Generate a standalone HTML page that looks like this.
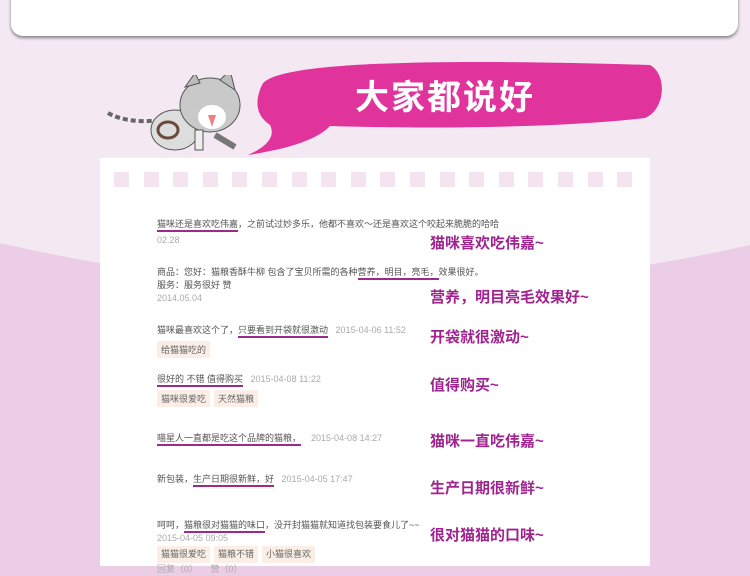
<!DOCTYPE html>
<html><head><meta charset="utf-8"><style>
body{margin:0;width:750px;height:566px;overflow:hidden;position:relative;background:#ebcde5;font-family:"Liberation Sans","Noto Sans CJK SC",sans-serif}
.abs{position:absolute}
.c{font-size:9px;color:#555;white-space:nowrap}
.d{color:#aaa;font-size:9px}
.u{border-bottom:2px solid #9a2a8c;padding-bottom:1px}
.tag{display:inline-block;background:#fbeee6;color:#666;font-size:9px;padding:2px 4px;margin-right:4px}
.r{position:absolute;left:430px;color:#a0248f;font-weight:bold;font-size:15px;white-space:nowrap}
</style></head><body>
<svg class="abs" style="left:0;top:0" width="750" height="566"><path d="M0,0H750V245Q375,330 0,243Z" fill="#f4e8f3"/></svg>
<div class="abs" style="left:11px;top:-10px;width:727px;height:46px;background:#fff;border-radius:0 0 12px 12px;box-shadow:0 2px 3px rgba(0,0,0,.45)"></div>
<svg class="abs" style="left:100px;top:75px" width="160" height="80">
<path d="M8,38 C20,45 40,48 60,45" stroke="#666" stroke-width="4" fill="none" stroke-dasharray="5 3"/>
<ellipse cx="75" cy="55" rx="24" ry="20" fill="#ddd" stroke="#555"/>
<ellipse cx="68" cy="55" rx="10" ry="8" fill="none" stroke="#6a4a3a" stroke-width="3"/>
<ellipse cx="110" cy="30" rx="30" ry="27" fill="#c9c9c9" stroke="#555"/>
<path d="M85,12 L95,-2 L100,8Z M120,5 L130,-5 L135,15Z" fill="#bbb" stroke="#555"/>
<ellipse cx="112" cy="42" rx="14" ry="12" fill="#fff"/>
<path d="M108,40 L116,40 L112,52Z" fill="#f08080"/>
<rect x="95" y="55" width="8" height="20" fill="#eee" stroke="#555"/>
<path d="M115,60 L135,72" stroke="#777" stroke-width="6"/>
</svg>
<svg class="abs" style="left:240px;top:50px" width="430" height="110">
<path d="M22,35 C35,8 250,10 410,15 C428,25 425,60 405,68 C300,80 150,78 90,76 C75,92 40,100 8,105 C30,95 35,85 30,75 C15,65 15,50 22,35Z" fill="#e0339b"/>
</svg>
<div class="abs" style="left:355px;top:70px;font-size:34px;font-weight:bold;color:#fff;letter-spacing:2px;font-family:'WenQuanYi Zen Hei','Noto Sans CJK SC',sans-serif">大家都说好</div>
<div class="abs" style="left:100px;top:158px;width:550px;height:408px;background:#fff"></div>
<div class="abs" style="left:114px;top:172px" id="sq"></div>
<script>
const sq=document.getElementById('sq');
for(let i=0;i<18;i++){const s=document.createElement('div');


s.style.cssText='position:absolute;top:0;width:15px;height:15px;background:#f3e4f0;left:'+(i*29.6)+'px';sq.appendChild(s);}
</script>
<div class="abs c" style="left:157px;top:216px;line-height:16px"><span class="u">猫咪还是喜欢吃伟嘉</span>，之前试过妙多乐，他都不喜欢～还是喜欢这个咬起来脆脆的哈哈<br><span class="d">02.28</span></div>
<div class="r" style="top:232px">猫咪喜欢吃伟嘉~</div>
<div class="abs c" style="left:157px;top:266px;line-height:13px">商品：您好：猫粮香酥牛柳 包含了宝贝所需的各种<span class="u">营养，明目，亮毛，</span>效果很好。<br>服务：服务很好 赞<br><span class="d">2014.05.04</span></div>
<div class="r" style="top:286px">营养，明目亮毛效果好~</div>
<div class="abs c" style="left:157px;top:323px">猫咪最喜欢这个了，<span class="u">只要看到开袋就很激动</span>&nbsp;&nbsp;&nbsp;<span class="d">2015-04-06 11:52</span><br><span class="tag" style="margin-top:5px">给猫猫吃的</span></div>
<div class="r" style="top:326px">开袋就很激动~</div>
<div class="abs c" style="left:157px;top:372px"><span class="u">很好的 不错 值得购买</span>&nbsp;&nbsp;&nbsp;<span class="d">2015-04-08 11:22</span><br><span class="tag" style="margin-top:5px">猫咪很爱吃</span><span class="tag">天然猫粮</span></div>
<div class="r" style="top:374px">值得购买~</div>
<div class="abs c" style="left:157px;top:431px"><span class="u">喵星人一直都是吃这个品牌的猫粮，</span>&nbsp;&nbsp;&nbsp;&nbsp;<span class="d">2015-04-08 14:27</span></div>
<div class="r" style="top:430px">猫咪一直吃伟嘉~</div>
<div class="abs c" style="left:157px;top:472px">新包装，<span class="u">生产日期很新鲜，好</span>&nbsp;&nbsp;&nbsp;<span class="d">2015-04-05 17:47</span></div>
<div class="r" style="top:477px">生产日期很新鲜~</div>
<div class="abs c" style="left:157px;top:519px;line-height:13px">呵呵，<span class="u">猫粮很对猫猫的味口</span>，没开封猫猫就知道找包装要食儿了~~<br><span class="d">2015-04-05 09:05</span><br><span class="tag" style="margin-top:1px">猫猫很爱吃</span><span class="tag">猫粮不错</span><span class="tag">小猫很喜欢</span><br><span class="d">回复（0）&nbsp;&nbsp;&nbsp;&nbsp;&nbsp;赞（0）</span></div>
<div class="r" style="top:524px">很对猫猫的口味~</div>
</body></html>
